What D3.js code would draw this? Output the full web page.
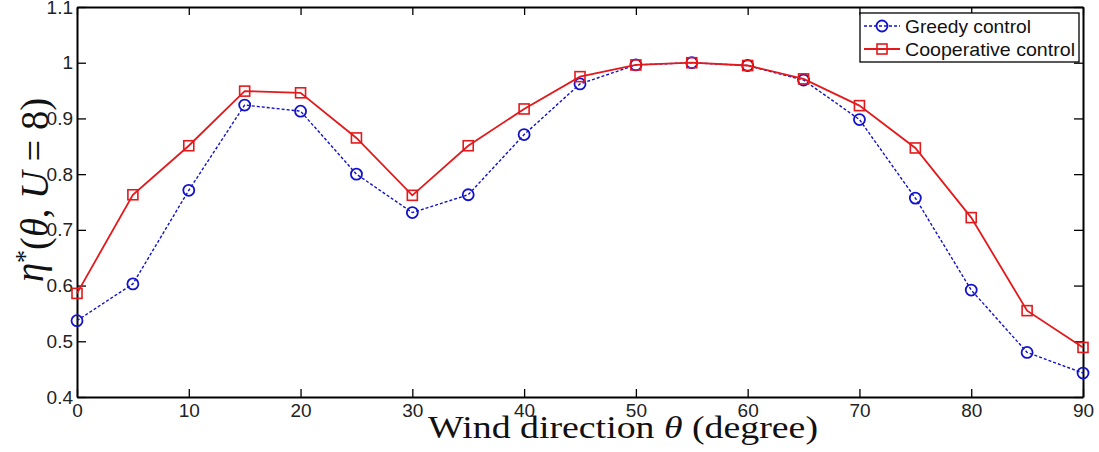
<!DOCTYPE html>
<html>
<head>
<meta charset="utf-8">
<script src="https://cdn.jsdelivr.net/npm/d3@7"></script>
<style>
  body { margin: 0; background: #fff; }
  svg { display: block; }
</style>
</head>
<body>
<div id="chart"><svg width="1099" height="452"></svg></div>
<script>
// data
const angles = [0, 5, 10, 15, 20, 25, 30, 35, 40, 45, 50, 55, 60, 65, 70, 75, 80, 85, 90];
const greedy = [0.537, 0.603, 0.771, 0.924, 0.913, 0.800, 0.731, 0.763, 0.871, 0.962, 0.996, 1.0, 0.995, 0.969, 0.898, 0.757, 0.592, 0.480, 0.443];
const cooperative = [0.586, 0.763, 0.851, 0.949, 0.946, 0.865, 0.762, 0.851, 0.917, 0.975, 0.996, 1.0, 0.995, 0.971, 0.923, 0.847, 0.722, 0.555, 0.489];
const xTicks = [0, 10, 20, 30, 40, 50, 60, 70, 80, 90];
const yTicks = [0.4, 0.5, 0.6, 0.7, 0.8, 0.9, 1, 1.1];
const seriesNames = ['Greedy control', 'Cooperative control'];

const svg = d3.select('#chart svg');

const BLUE = '#1212cc';
const RED = '#e3191c';

// scales
const scaleX = d3.scaleLinear().domain([0, 90]).range([77, 1083]);
const scaleY = d3.scaleLinear().domain([0.4, 1.1]).range([397, 7]);
const fmt = d3.format('~g');

// axes (ticks inside, box on all sides)
const axisFont = g => g.selectAll('text')
  .style('font-family', 'Arial, "Liberation Sans", sans-serif')
  .style('font-size', '19px')
  .style('fill', '#222');

svg.append('g')
  .attr('transform', `translate(0,${scaleY(0.4)})`)
  .call(d3.axisBottom(scaleX).tickValues(xTicks).tickSize(-8).tickSizeOuter(0).tickPadding(7))
  .call(axisFont);

svg.append('g')
  .attr('transform', `translate(${scaleX(0)},0)`)
  .call(d3.axisLeft(scaleY).tickValues(yTicks).tickFormat(fmt).tickSize(-9).tickSizeOuter(0).tickPadding(4))
  .call(axisFont);

svg.append('g')
  .attr('transform', `translate(0,${scaleY(1.1)})`)
  .call(d3.axisTop(scaleX).tickValues(xTicks).tickFormat('').tickSize(-8).tickSizeOuter(0));

svg.append('g')
  .attr('transform', `translate(${scaleX(90)},0)`)
  .call(d3.axisRight(scaleY).tickValues(yTicks).tickFormat('').tickSize(-9).tickSizeOuter(0));

svg.selectAll('.domain').attr('stroke', '#000').attr('stroke-width', 2);
svg.selectAll('.tick line').attr('stroke', '#000').attr('stroke-width', 1.3);

// lines
const line = values => d3.line()
  .x((d, i) => scaleX(angles[i]))
  .y(d => scaleY(d))(values);

svg.append('path')
  .attr('d', line(greedy))
  .attr('fill', 'none')
  .attr('stroke', BLUE)
  .attr('stroke-width', 1.4)
  .attr('stroke-dasharray', '3,2');

svg.append('g').selectAll('circle')
  .data(greedy)
  .join('circle')
  .attr('cx', (d, i) => scaleX(angles[i]))
  .attr('cy', d => scaleY(d))
  .attr('r', 5.5)
  .attr('fill', 'none')
  .attr('stroke', BLUE)
  .attr('stroke-width', 1.8);

svg.append('path')
  .attr('d', line(cooperative))
  .attr('fill', 'none')
  .attr('stroke', RED)
  .attr('stroke-width', 1.8);

svg.append('g').selectAll('rect')
  .data(cooperative)
  .join('rect')
  .attr('x', (d, i) => scaleX(angles[i]) - 5)
  .attr('y', d => scaleY(d) - 5)
  .attr('width', 10)
  .attr('height', 10)
  .attr('fill', 'none')
  .attr('stroke', RED)
  .attr('stroke-width', 1.6);

// legend
const legend = svg.append('g');
legend.append('rect')
  .attr('x', 860).attr('y', 13)
  .attr('width', 219).attr('height', 49)
  .attr('fill', '#fff')
  .attr('stroke', '#000')
  .attr('stroke-width', 1.3);

const rows = legend.selectAll('g.row')
  .data(seriesNames)
  .join('g')
  .attr('class', 'row')
  .attr('transform', (d, i) => `translate(0,${26 + i * 23})`);

rows.append('line')
  .attr('x1', 864).attr('x2', 900)
  .attr('stroke', (d, i) => i === 0 ? BLUE : RED)
  .attr('stroke-width', (d, i) => i === 0 ? 1.4 : 1.8)
  .attr('stroke-dasharray', (d, i) => i === 0 ? '3,2' : null);

rows.filter((d, i) => i === 0).append('circle')
  .attr('cx', 882).attr('r', 5.5)
  .attr('fill', 'none').attr('stroke', BLUE).attr('stroke-width', 1.8);

rows.filter((d, i) => i === 1).append('rect')
  .attr('x', 877).attr('y', -5).attr('width', 10).attr('height', 10)
  .attr('fill', 'none').attr('stroke', RED).attr('stroke-width', 1.6);

rows.append('text')
  .text(d => d)
  .attr('x', 905)
  .attr('dy', '0.36em')
  .attr('textLength', (d, i) => i === 0 ? 126 : 170)
  .attr('lengthAdjust', 'spacingAndGlyphs')
  .style('font-family', 'Arial, "Liberation Sans", sans-serif')
  .style('font-size', '19px')
  .style('fill', '#111');

// x title
const xt = svg.append('text')
  .attr('x', 428)
  .attr('y', 438)
  .attr('textLength', 390)
  .attr('lengthAdjust', 'spacingAndGlyphs')
  .style('font-family', '"Liberation Serif", "DejaVu Serif", serif')
  .style('font-size', '32px')
  .style('fill', '#111');
xt.append('tspan').text('Wind direction ');
xt.append('tspan').style('font-style', 'italic').text('θ');
xt.append('tspan').text(' (degree)');

// y title
const yt = svg.append('text')
  .attr('transform', 'translate(43,282) rotate(-90)')
  .attr('textLength', 184)
  .attr('lengthAdjust', 'spacingAndGlyphs')
  .style('font-family', '"Liberation Serif", "DejaVu Serif", serif')
  .style('font-size', '40px')
  .style('fill', '#111');
yt.append('tspan').style('font-style', 'italic').text('η');
yt.append('tspan').attr('dy', '-0.35em').style('font-size', '27px').text('*');
yt.append('tspan').attr('dy', '0.35em').text('(');
yt.append('tspan').style('font-style', 'italic').text('θ');
yt.append('tspan').text(', ');
yt.append('tspan').style('font-style', 'italic').text('U');
yt.append('tspan').text(' = 8)');
</script>
</body>
</html>
